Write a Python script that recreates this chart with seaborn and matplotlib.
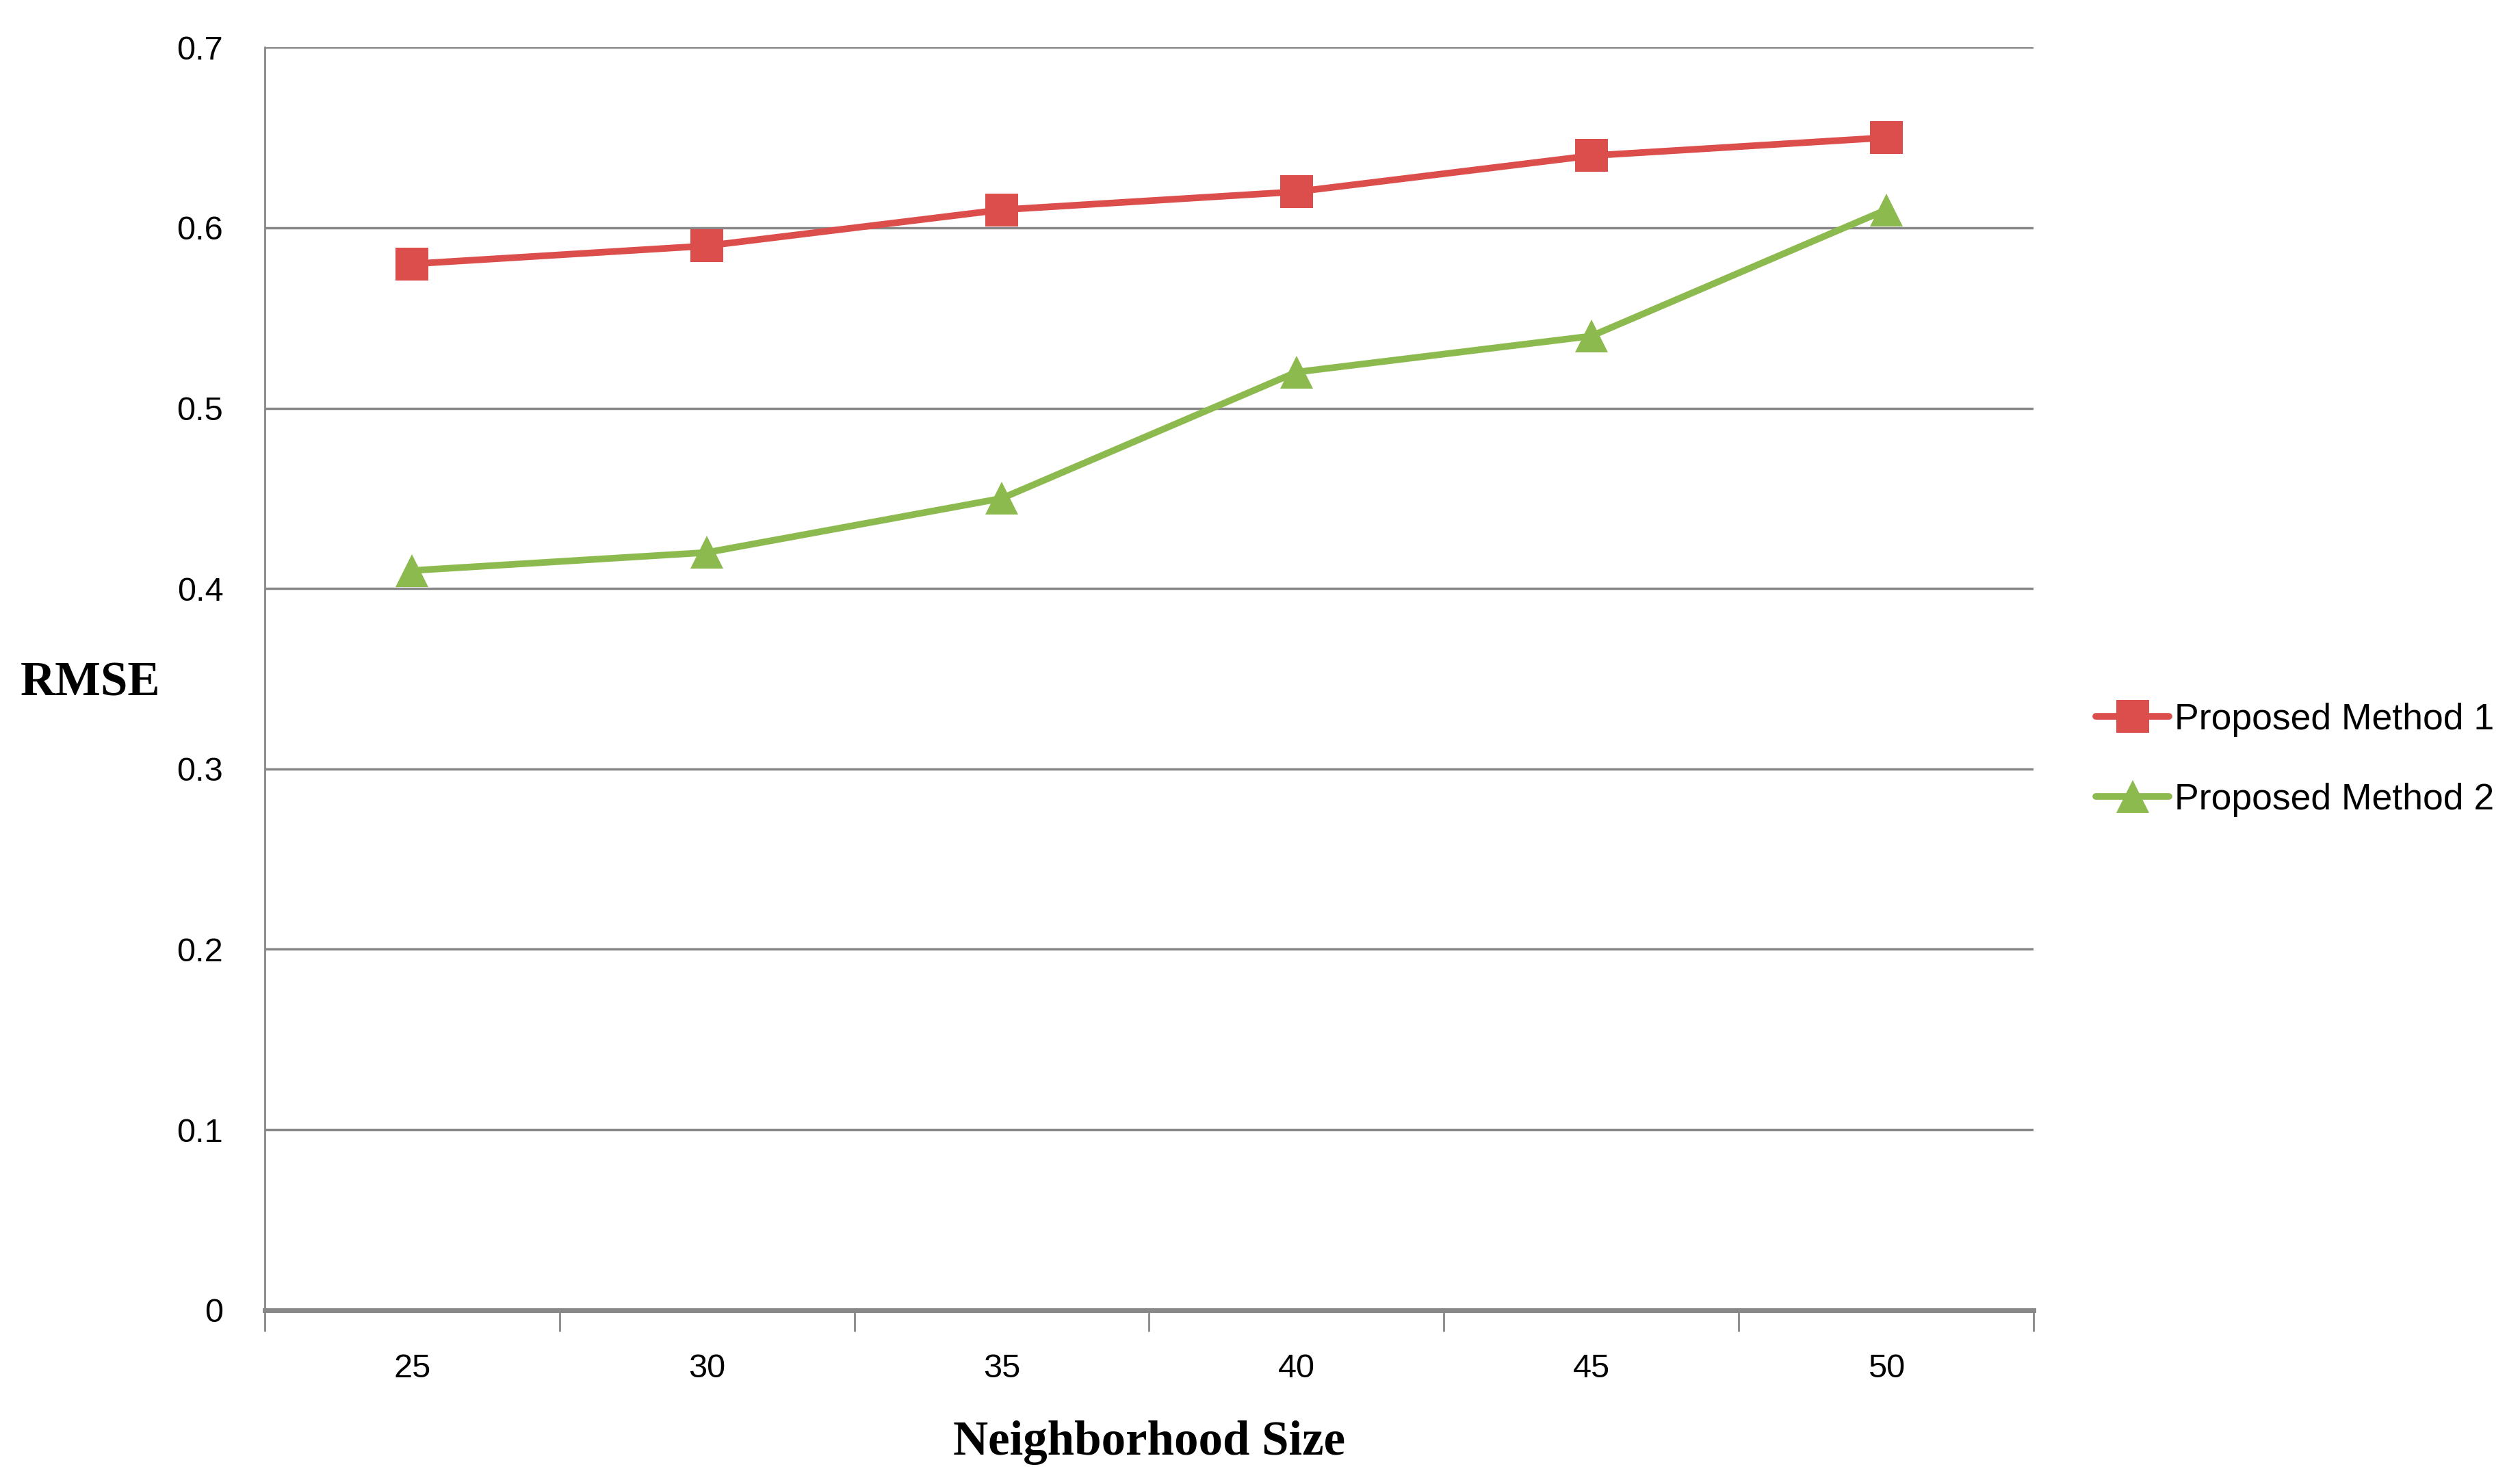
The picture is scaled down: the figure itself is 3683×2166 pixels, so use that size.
import seaborn as sns
import pandas as pd
import matplotlib.pyplot as plt
from matplotlib.ticker import FixedLocator, NullFormatter

# data
sizes = [25, 30, 35, 40, 45, 50]
method1 = [0.58, 0.59, 0.61, 0.62, 0.64, 0.65]
method2 = [0.41, 0.42, 0.45, 0.52, 0.54, 0.61]
series_names = ['Proposed Method 1', 'Proposed Method 2']

pos = list(range(len(sizes)))
df = pd.DataFrame({
    'pos': pos * 2,
    'RMSE': method1 + method2,
    'method': [series_names[0]] * len(sizes) + [series_names[1]] * len(sizes),
})

sns.set_style('white')
plt.rcParams['font.family'] = ['Liberation Sans', 'DejaVu Sans']
plt.rcParams['text.color'] = 'black'
plt.rcParams['xtick.color'] = 'black'
plt.rcParams['ytick.color'] = 'black'
plt.rcParams['axes.labelcolor'] = 'black'

fig = plt.figure(figsize=(36.83, 21.66), dpi=100)
ax = fig.add_axes([0.105, 0.116, 0.702, 0.852])

sns.lineplot(data=df, x='pos', y='RMSE', hue='method', style='method',
             palette=['#DC4E4C', '#8DBA4E'], markers=['s', '^'], dashes=False,
             linewidth=7, markersize=34, markeredgewidth=0, ax=ax)

ax.set_xlim(-0.5, len(sizes) - 0.5)
ax.set_ylim(0, 0.7)
ax.set_yticks([0, 0.1, 0.2, 0.3, 0.4, 0.5, 0.6, 0.7])
ax.set_yticklabels(['0', '0.1', '0.2', '0.3', '0.4', '0.5', '0.6', '0.7'])
ax.set_xticks(pos)
ax.set_xticklabels([str(s) for s in sizes])
ax.xaxis.set_minor_locator(FixedLocator([p - 0.5 for p in pos] + [len(sizes) - 0.5]))
ax.xaxis.set_minor_formatter(NullFormatter())
ax.tick_params(axis='x', which='major', bottom=False, labelsize=35, pad=42)
ax.tick_params(axis='x', which='minor', bottom=True, direction='out',
               length=22, width=2, color='#888888')
ax.tick_params(axis='y', left=False, labelsize=35, pad=40)

ax.grid(axis='y', color='#888888', linewidth=2.5)
ax.set_axisbelow(True)
for side in ['top', 'right']:
    ax.spines[side].set_visible(False)
ax.spines['left'].set_color('#888888')
ax.spines['left'].set_linewidth(2)
ax.spines['bottom'].set_color('#888888')
ax.spines['bottom'].set_linewidth(5)

ax.set_xlabel('Neighborhood Size', fontsize=51, fontweight='bold',
              family='Liberation Serif', labelpad=38)
ax.set_ylabel('RMSE', fontsize=51, fontweight='bold', family='Liberation Serif',
              rotation=0, va='center', ha='center')
ax.yaxis.set_label_coords(-0.0985, 0.496)

ax.legend(loc='center left', bbox_to_anchor=(1.027, 0.436), frameon=False,
          fontsize=38.5, handlelength=2.0, handletextpad=0.15, labelspacing=1.25,
          borderaxespad=0)

fig.savefig('out.png', dpi=100)
